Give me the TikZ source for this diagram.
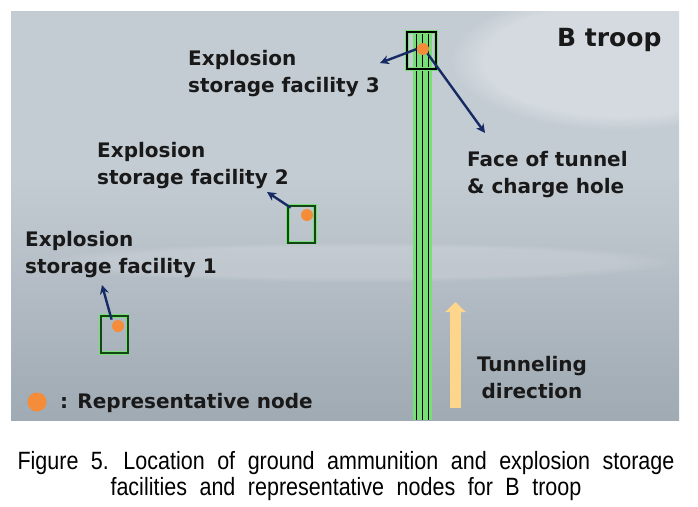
\documentclass[tikz,border=0pt]{standalone}
\usepackage{fontspec}
\setmainfont{DejaVu Sans}
\newfontfamily\capfont[FakeStretch=0.86, WordSpace=2.1]{Liberation Sans}
\usetikzlibrary{arrows.meta}
\usetikzlibrary{fadings}

\definecolor{bgtop}{RGB}{172,185,196}
\definecolor{bglight}{RGB}{196,204,211}
\definecolor{bgmid}{RGB}{165,175,184}
\definecolor{bgbot}{RGB}{136,148,158}
\definecolor{navyarrow}{RGB}{22,42,100}
\definecolor{boxgreen}{RGB}{18,70,18}
\definecolor{glowgreen}{RGB}{120,222,120}
\definecolor{dotorange}{RGB}{244,140,58}
\definecolor{dirarrow}{RGB}{253,214,140}

\pgfdeclareverticalshading{sky}{100bp}{color(0bp)=(bgbot); color(30bp)=(bgmid); color(55bp)=(bglight); color(75bp)=(bglight); color(100bp)=(bgtop)}

\tikzset{
    lbl/.style = {font=\fontsize{20}{27}\selectfont\bfseries, align=left, inner sep=0pt, anchor=base west, text=black!90},
    facility/.style = {draw=boxgreen, line width=2pt, minimum width=27pt, minimum height=37pt, inner sep=0pt},
    repnode/.style = {circle, fill=dotorange, minimum size=12pt, inner sep=0pt},
    pointer/.style = {draw=navyarrow, line width=2.4pt, -{Stealth[length=9pt,width=9pt]}}
}

\begin{document}
\begin{tikzpicture}[x=1pt, y=-1pt]
    \useasboundingbox (0,0) rectangle (698,506);

    % background photo
    \shade[shading=sky] (11,11) rectangle (679,420);
    \fill[white, fill opacity=0.28, path fading=circle with fuzzy edge 20 percent] (620,60) ellipse (170 and 70);
    \fill[white, fill opacity=0.15, path fading=circle with fuzzy edge 20 percent] (360,262) ellipse (320 and 20);

    % tunnel
    \fill[glowgreen] (413,32) rectangle (432,420);
    \foreach \tx in {416.5,422.5,428.5}
        \draw[black, line width=1.6pt] (\tx,32) -- (\tx,420);
    \node[facility, draw=glowgreen, line width=4.5pt, minimum width=29pt] (fac3) at (421.5,50.5) {};
    \node[facility, draw=black, line width=1.8pt, minimum width=29pt] at (fac3) {};

    % storage facilities
    \node[facility, draw=glowgreen, line width=3.5pt] (fac2g) at (301.5,224) {};
    \node[facility] (fac2) at (301.5,224) {};
    \node[facility, draw=glowgreen, line width=3.5pt] (fac1g) at (114,334.5) {};
    \node[facility] (fac1) at (114,334.5) {};

    % representative nodes
    \node[repnode] (rep3) at (423,49) {};
    \node[repnode] (rep2) at (307,215) {};
    \node[repnode] (rep1) at (118,326) {};

    % label anchors
    \coordinate (tip3) at (380,63);
    \coordinate (tipface) at (485,133);
    \coordinate (tip2) at (267,192);
    \coordinate (tip1) at (102,285);

    \draw[pointer] (rep3.west) -- (tip3);
    \draw[pointer] (rep3.south east) -- (tipface);
    \draw[pointer] (rep2.north west) ++(-12,-3) coordinate (from2) -- (tip2);
    \draw[pointer] (rep1.north west) ++(-2,-2) coordinate (from1) -- (tip1);

    % tunneling direction
    \coordinate (dirbot) at (455.5,408);
    \coordinate (dirtop) at (455.5,302);
    \draw[dirarrow, line width=11pt, -{Triangle[length=10pt,width=20pt]}] (dirbot) -- (dirtop);

    % labels (base = last line)
    \node[lbl] (lab3) at (188,92) {Explosion\\storage facility 3};
    \node[lbl] (lab2) at (97,184) {Explosion\\storage facility 2};
    \node[lbl] (lab1) at (25,273) {Explosion\\storage facility 1};
    \node[lbl] (face) at (467,193) {Face of tunnel\\\& charge hole};
    \node[lbl, align=center, anchor=base] (dir) at (532,398) {Tunneling\\direction};
    \node[lbl, font=\fontsize{25}{28}\selectfont\bfseries] (troop) at (557,46) {B troop};

    % legend
    \node[repnode, minimum size=19pt] (legdot) at (37,402) {};
    \node[lbl] (legtxt) at (60,408) {: Representative node};

    % caption
    \node[font=\capfont\fontsize{25}{26}\selectfont, align=center, anchor=base, inner sep=0pt] (caption) at (346,495)
        {Figure 5. Location of ground ammunition and explosion storage\\facilities and representative nodes for B troop};
\end{tikzpicture}
\end{document}
